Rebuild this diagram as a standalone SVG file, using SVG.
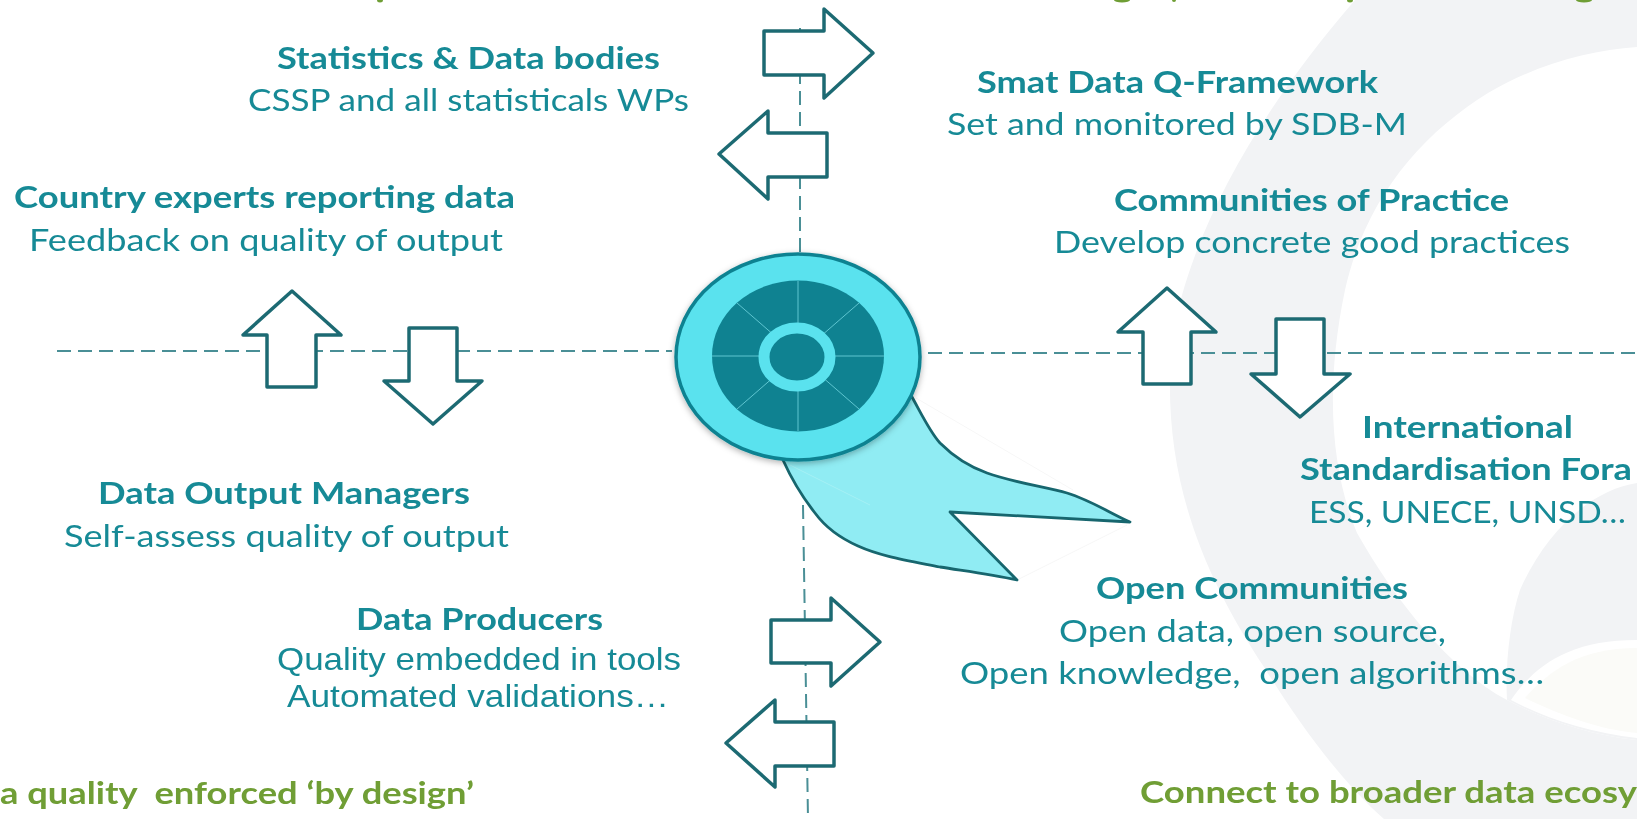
<svg xmlns="http://www.w3.org/2000/svg" width="1637" height="819" viewBox="0 0 1637 819">
<style>
text{font-family:Lato,"Open Sans","Liberation Sans",sans-serif;font-size:31px;fill:#178a96;white-space:pre;filter:url(#soft)}
.b{font-weight:700}
.a{font-family:"Liberation Sans",Arial,sans-serif;font-size:32px}
.g{fill:#6f9e35;font-weight:700}
.arrow{fill:#fff;stroke:#1f6b73;stroke-width:3.500;stroke-linejoin:round;filter:url(#soft)}
.dash{fill:none;stroke:#4a8f96;stroke-width:2;stroke-dasharray:14 7}
.faint{fill:none;stroke:#f7f7f7;stroke-width:1}
</style>
<defs>
<filter id="s" x="-10%" y="-10%" width="120%" height="120%"><feDropShadow dx="0" dy="2" stdDeviation="3" flood-color="#000" flood-opacity=".3"/></filter>
<filter id="soft" x="-5%" y="-20%" width="110%" height="140%"><feGaussianBlur stdDeviation="0.5"/></filter>
</defs>
<rect width="1637" height="819" fill="#fff"/>
<g id="background">
<path d="M1355 0C1260 110 1190 230 1172 340C1160 470 1200 570 1264 667C1300 725 1340 780 1384 819H1637V740C1590 735 1545 720 1507 700C1450 670 1395 600 1357 533C1335 480 1322 400 1345 290C1365 200 1420 135 1488 93C1535 65 1590 50 1637 47V0Z" fill="#f2f3f5"/>
<path d="M1637 483C1590 490 1545 533 1520 590C1510 620 1505 665 1507 700C1545 720 1590 735 1637 740Z" fill="#f2f3f5"/>
<path d="M1511 700C1535 665 1570 640 1637 640V738C1590 733 1545 718 1511 700Z" fill="#fff"/>
<path d="M1525 698C1550 670 1580 648 1637 648V733C1600 730 1560 715 1525 698Z" fill="#fbfbf8"/>
</g>
<g id="connectors">
<path class="dash" d="M57 351H672"/>
<path class="dash" d="M928 353H1637"/>
<path class="dash" d="M800 28V252"/>
<path class="dash" d="M803 505L808 819"/>
</g>
<g id="arrows">
<path class="arrow" d="M764 31H824V9L873 53L824 98V75H764Z"/>
<path class="arrow" d="M827 133H768V111L719 154L768 199V177H827Z"/>
<path class="arrow" d="M771 620H831V598L880 642L831 686V663H771Z"/>
<path class="arrow" d="M834 722H775V700L726 743L775 787V766H834Z"/>
<path class="arrow" d="M267 387V335H243L292 291L341 335H316V387Z"/>
<path class="arrow" d="M409 328V381H384L433 424L482 381H457V328Z"/>
<path class="arrow" d="M1143 384V332H1118L1167 288L1216 332H1191V384Z"/>
<path class="arrow" d="M1276 319V374H1251L1300 417L1350 374H1324V319Z"/>
</g>
<g id="hub">
<path class="faint" d="M916 398L1073 490M1017 580L1127 525"/>
<path d="M912 397C922 415 930 432 940 443C955 458 970 467 987 473C1012 482 1045 487 1067 493C1090 500 1110 513 1130 522L950 512L1017 580C990 574 965 571 940 567C905 560 880 556 858 546C840 538 826 528 815 513C800 494 792 480 783 460Z" fill="#90ecf3" stroke="#17666e" stroke-width="2.800" stroke-linejoin="round"/>
<path d="M790 465L870 505" fill="none" stroke="#a4f0f5" stroke-width="1"/>
<ellipse cx="798" cy="357" rx="122" ry="103" fill="#5ae2ee" stroke="#0f8291" stroke-width="3.500" filter="url(#s)"/>
<ellipse cx="798" cy="356" rx="86" ry="75.500" fill="#0f8291"/>
<path d="M798 281V431M712 356H884M737 303L859 409M859 303L737 409" stroke="#5fc5d0" stroke-width="1"/>
<ellipse cx="797" cy="357" rx="33" ry="29" fill="#0f8291" stroke="#5ae2ee" stroke-width="11"/>
</g>
<g id="top-fragments" fill="#6f9e35">
<ellipse cx="380" cy="0" rx="3" ry="2.500"/>
<ellipse cx="1122" cy="0" rx="8" ry="2.500"/>
<ellipse cx="1174" cy="0" rx="2" ry="2"/>
<ellipse cx="1350" cy="0" rx="3" ry="2.500"/>
<ellipse cx="1584" cy="0" rx="8" ry="2.500"/>
</g>
<g id="statistics"><text class="b" x="277" y="69" textLength="383" lengthAdjust="spacingAndGlyphs">Statistics &amp; Data bodies</text><text x="248" y="111" textLength="441" lengthAdjust="spacingAndGlyphs">CSSP and all statisticals WPs</text></g>
<g id="country"><text class="b" x="14" y="208" textLength="501" lengthAdjust="spacingAndGlyphs">Country experts reporting data</text><text x="29" y="251" textLength="474" lengthAdjust="spacingAndGlyphs">Feedback on quality of output</text></g>
<g id="framework"><text class="b" x="977" y="93" textLength="401" lengthAdjust="spacingAndGlyphs">Smat Data Q-Framework</text><text x="947" y="135" textLength="460" lengthAdjust="spacingAndGlyphs">Set and monitored by SDB-M</text></g>
<g id="communities"><text class="b" x="1114" y="211" textLength="395" lengthAdjust="spacingAndGlyphs">Communities of Practice</text><text x="1054" y="253" textLength="516" lengthAdjust="spacingAndGlyphs">Develop concrete good practices</text></g>
<g id="standardisation"><text class="b" x="1362" y="438" textLength="211" lengthAdjust="spacingAndGlyphs">International</text><text class="b" x="1300" y="480" textLength="332" lengthAdjust="spacingAndGlyphs">Standardisation Fora</text><text x="1309" y="523" textLength="317" lengthAdjust="spacingAndGlyphs">ESS, UNECE, UNSD…</text></g>
<g id="open"><text class="b" x="1096" y="599" textLength="312" lengthAdjust="spacingAndGlyphs">Open Communities</text><text x="1059" y="642" textLength="387" lengthAdjust="spacingAndGlyphs">Open data, open source,</text><text x="960" y="684" textLength="584" lengthAdjust="spacingAndGlyphs">Open knowledge,  open algorithms…</text></g>
<g id="output"><text class="b" x="98" y="504" textLength="372" lengthAdjust="spacingAndGlyphs">Data Output Managers</text><text x="64" y="547" textLength="445" lengthAdjust="spacingAndGlyphs">Self-assess quality of output</text></g>
<g id="producers"><text class="b" x="356" y="630" textLength="247" lengthAdjust="spacingAndGlyphs">Data Producers</text><text class="a" x="277" y="670" textLength="404" lengthAdjust="spacingAndGlyphs">Quality embedded in tools</text><text class="a" x="287" y="707" textLength="382" lengthAdjust="spacingAndGlyphs">Automated validations…</text></g>
<g id="footers"><text class="g" x="0" y="804" textLength="474" lengthAdjust="spacingAndGlyphs">a quality  enforced ‘by design’</text><text class="g" x="1140" y="803" textLength="497" lengthAdjust="spacingAndGlyphs">Connect to broader data ecosy</text></g>
</svg>
